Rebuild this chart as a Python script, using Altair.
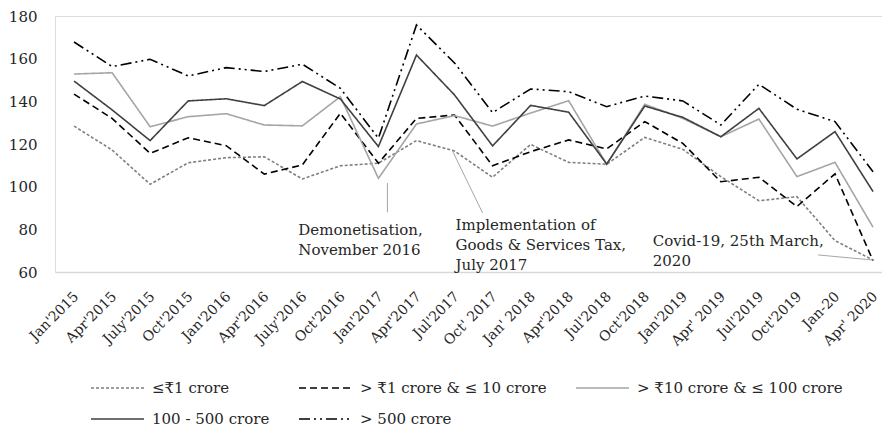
import altair as alt
import pandas as pd

categories = ["Jan'2015", "Apr'2015", "July'2015", "Oct'2015", "Jan'2016", "Apr'2016",
              "July'2016", "Oct'2016", "Jan'2017", "Apr'2017", "Jul'2017", "Oct' 2017",
              "Jan' 2018", "Apr'2018", "Jul'2018", "Oct'2018", "Jan'2019", "Apr' 2019",
              "Jul'2019", "Oct'2019", "Jan-20", "Apr' 2020"]

series_names = ["≤₹1 crore", "> ₹1 crore & ≤ 10 crore", "> ₹10 crore & ≤ 100 crore",
                "100 - 500 crore", "> 500 crore"]

upto_1 = [128.4, 117.2, 101.1, 111.2, 113.6, 114.0, 103.6, 109.8, 111.0, 121.6, 116.7,
          104.4, 119.8, 111.4, 110.5, 123.1, 117.5, 104.7, 93.4, 95.3, 74.7, 65.6]
from_1_to_10 = [143.4, 132.0, 115.6, 122.9, 119.2, 105.9, 110.2, 134.4, 111.0, 132.0, 133.6,
                109.8, 116.4, 121.9, 117.7, 130.5, 120.3, 102.3, 104.4, 90.7, 106.0, 65.3]
from_10_to_100 = [152.8, 153.4, 128.1, 132.8, 134.2, 128.9, 128.5, 142.2, 103.9, 129.4, 133.3,
                  128.4, 134.5, 140.3, 110.5, 138.6, 132.0, 123.4, 131.7, 104.7, 111.4, 81.0]
from_100_to_500 = [149.5, 136.0, 121.6, 140.2, 141.2, 138.0, 149.3, 141.1, 118.8, 161.7, 143.0,
                   119.1, 138.1, 134.9, 110.6, 137.8, 132.5, 123.4, 136.7, 113.0, 125.8, 97.7]
above_500 = [167.8, 156.3, 159.7, 151.9, 155.8, 154.0, 157.4, 146.1, 122.7, 175.8, 158.0,
             134.7, 145.8, 144.5, 137.5, 142.5, 140.2, 128.9, 148.0, 136.3, 130.5, 107.0]

all_values = [upto_1, from_1_to_10, from_10_to_100, from_100_to_500, above_500]

line_colors = ["#7f7f7f", "#000000", "#a5a5a5", "#404040", "#000000"]
line_dashes = [[3, 2], [7, 4], [1, 0], [1, 0], [11, 4, 2, 4, 2, 4]]

rows = []
for name, vals in zip(series_names, all_values):
    for c, v in zip(categories, vals):
        rows.append({"month": c, "series": name, "value": v})
df = pd.DataFrame(rows)

notes_text = ["Demonetisation,\nNovember 2016",
              "Implementation of\nGoods & Services Tax,\nJuly 2017",
              "Covid-19, 25th March,\n2020"]
notes_month = ["July'2016", "Jul'2017", "Oct'2018"]
notes_value = [79.7, 82.0, 74.5]
notes_dx = [-4, 1, 8]

leader_x = ["Jan'2017", "Jul'2017", "Jan-20"]
leader_x2 = ["Jan'2017", "Oct' 2017", "Apr' 2020"]
leader_y = [101.7, 116.7, 68.0]
leader_y2 = [88.0, 87.7, 65.6]
leader_dx = [9, -2, -17]
leader_dx2 = [9, -10, 0]

FONT = "DejaVu Serif"

xscale = alt.Scale(type="point", domain=categories, padding=0.368, align=0.68)
yscale = alt.Scale(domain=[60, 180], nice=False, zero=False)

legend = alt.Legend(title=None, orient="none", legendX=35, legendY=363, columns=3,
                    direction="horizontal",
                    symbolType="stroke", symbolSize=2809, symbolStrokeWidth=1.6,
                    clipHeight=18, labelFont=FONT, labelFontSize=15, labelColor="#262626",
                    labelOffset=7, columnPadding=28, rowPadding=13, padding=0,
                    labelLimit=400)

base = alt.Chart(df)
lines = base.mark_line(strokeWidth=1.6).encode(
    x=alt.X("month:N", scale=xscale, sort=categories,
            axis=alt.Axis(title=None, labelAngle=-45, labelAlign="right", labelBaseline="middle",
                          labelPadding=22, labelOffset=2, ticks=False, domainColor="#d9d9d9",
                          domainWidth=1.5, labelFont=FONT, labelFontSize=14,
                          labelColor="#262626", grid=False)),
    y=alt.Y("value:Q", scale=yscale,
            axis=alt.Axis(title=None, values=[60, 80, 100, 120, 140, 160, 180], domain=False,
                          ticks=False, grid=False, labelPadding=18, labelFont=FONT,
                          labelFontSize=15, labelColor="#262626")),
    color=alt.Color("series:N", scale=alt.Scale(domain=series_names, range=line_colors),
                    legend=legend),
    strokeDash=alt.StrokeDash("series:N", scale=alt.Scale(domain=series_names, range=line_dashes),
                              legend=legend),
    detail="series:N",
)

leaders_df = pd.DataFrame({"x": leader_x, "x2": leader_x2, "y": leader_y, "y2": leader_y2})
leader_layers = []
for i in range(len(leader_x)):
    leader_layers.append(
        alt.Chart(leaders_df.iloc[[i]]).mark_rule(color="#a6a6a6", strokeWidth=1,
                                                   xOffset=leader_dx[i], x2Offset=leader_dx2[i]).encode(
            x=alt.X("x:N", scale=xscale), x2="x2:N",
            y=alt.Y("y:Q", scale=yscale), y2="y2:Q")
    )

note_layers = []
for i in range(len(notes_text)):
    ndf = pd.DataFrame({"month": [notes_month[i]], "value": [notes_value[i]],
                        "txt": [notes_text[i].split("\n")]})
    note_layers.append(
        alt.Chart(ndf).mark_text(align="left", baseline="middle", font=FONT, fontSize=15,
                                 lineHeight=20, color="#262626", dx=notes_dx[i]).encode(
            x=alt.X("month:N", scale=xscale), y=alt.Y("value:Q", scale=yscale), text="txt")
    )

chart = alt.layer(lines, *leader_layers, *note_layers).properties(
    width=827, height=256,
    autosize=alt.AutoSizeParams(type="none"),
    padding={"left": 47, "top": 8, "right": 0, "bottom": 156},
).configure_view(stroke=None).configure(background="white")

chart.save("out.html", embed_options={"renderer": "svg", "actions": False})
